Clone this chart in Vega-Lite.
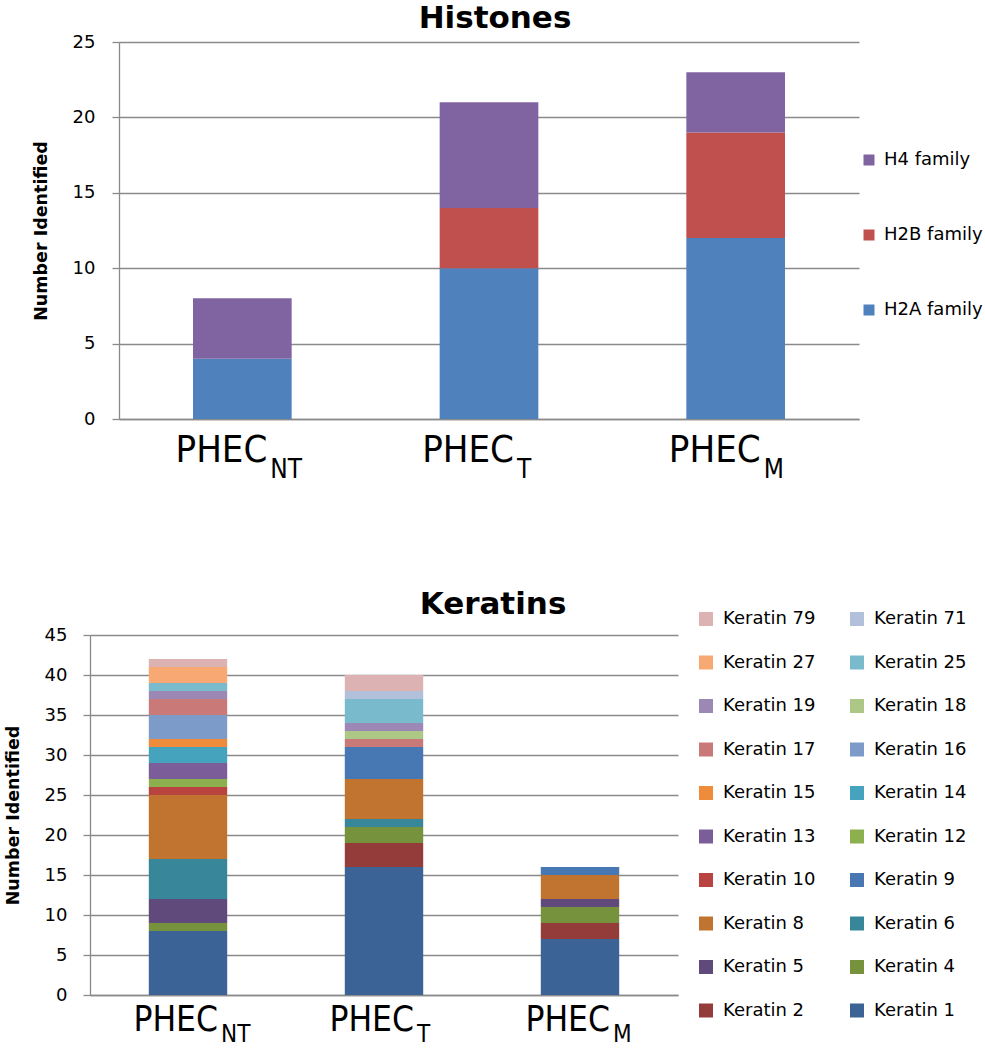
{
  "$schema": "https://vega.github.io/schema/vega-lite/v6.json",
  "padding": {"left": 4, "top": 3, "right": 0, "bottom": 0},
  "config": {
    "view": {"stroke": null},
    "font": "DejaVu Sans",
    "axis": {"labelColor": "#000000", "titleColor": "#000000", "domainColor": "#8a8a8a", "tickColor": "#8a8a8a", "gridColor": "#8a8a8a", "gridWidth": 1.3, "domainWidth": 1.3, "tickWidth": 1.3},
    "legend": {"labelColor": "#000000"},
    "title": {"color": "#000000"}
  },
  "datasets": {
    "histones": [
      {"sample": "PHEC_NT", "family": "H2A family", "n": 4},
      {"sample": "PHEC_NT", "family": "H4 family", "n": 4},
      {"sample": "PHEC_T", "family": "H2A family", "n": 10},
      {"sample": "PHEC_T", "family": "H2B family", "n": 4},
      {"sample": "PHEC_T", "family": "H4 family", "n": 7},
      {"sample": "PHEC_M", "family": "H2A family", "n": 12},
      {"sample": "PHEC_M", "family": "H2B family", "n": 7},
      {"sample": "PHEC_M", "family": "H4 family", "n": 4}
    ],
    "keratins": [
      {"sample": "PHEC_NT", "keratin": "Keratin 1", "num": 1, "n": 8},
      {"sample": "PHEC_NT", "keratin": "Keratin 4", "num": 4, "n": 1},
      {"sample": "PHEC_NT", "keratin": "Keratin 5", "num": 5, "n": 3},
      {"sample": "PHEC_NT", "keratin": "Keratin 6", "num": 6, "n": 5},
      {"sample": "PHEC_NT", "keratin": "Keratin 8", "num": 8, "n": 8},
      {"sample": "PHEC_NT", "keratin": "Keratin 10", "num": 10, "n": 1},
      {"sample": "PHEC_NT", "keratin": "Keratin 12", "num": 12, "n": 1},
      {"sample": "PHEC_NT", "keratin": "Keratin 13", "num": 13, "n": 2},
      {"sample": "PHEC_NT", "keratin": "Keratin 14", "num": 14, "n": 2},
      {"sample": "PHEC_NT", "keratin": "Keratin 15", "num": 15, "n": 1},
      {"sample": "PHEC_NT", "keratin": "Keratin 16", "num": 16, "n": 3},
      {"sample": "PHEC_NT", "keratin": "Keratin 17", "num": 17, "n": 2},
      {"sample": "PHEC_NT", "keratin": "Keratin 19", "num": 19, "n": 1},
      {"sample": "PHEC_NT", "keratin": "Keratin 25", "num": 25, "n": 1},
      {"sample": "PHEC_NT", "keratin": "Keratin 27", "num": 27, "n": 2},
      {"sample": "PHEC_NT", "keratin": "Keratin 79", "num": 79, "n": 1},
      {"sample": "PHEC_T", "keratin": "Keratin 1", "num": 1, "n": 16},
      {"sample": "PHEC_T", "keratin": "Keratin 2", "num": 2, "n": 3},
      {"sample": "PHEC_T", "keratin": "Keratin 4", "num": 4, "n": 2},
      {"sample": "PHEC_T", "keratin": "Keratin 6", "num": 6, "n": 1},
      {"sample": "PHEC_T", "keratin": "Keratin 8", "num": 8, "n": 5},
      {"sample": "PHEC_T", "keratin": "Keratin 9", "num": 9, "n": 4},
      {"sample": "PHEC_T", "keratin": "Keratin 17", "num": 17, "n": 1},
      {"sample": "PHEC_T", "keratin": "Keratin 18", "num": 18, "n": 1},
      {"sample": "PHEC_T", "keratin": "Keratin 19", "num": 19, "n": 1},
      {"sample": "PHEC_T", "keratin": "Keratin 25", "num": 25, "n": 3},
      {"sample": "PHEC_T", "keratin": "Keratin 71", "num": 71, "n": 1},
      {"sample": "PHEC_T", "keratin": "Keratin 79", "num": 79, "n": 2},
      {"sample": "PHEC_M", "keratin": "Keratin 1", "num": 1, "n": 7},
      {"sample": "PHEC_M", "keratin": "Keratin 2", "num": 2, "n": 2},
      {"sample": "PHEC_M", "keratin": "Keratin 4", "num": 4, "n": 2},
      {"sample": "PHEC_M", "keratin": "Keratin 5", "num": 5, "n": 1},
      {"sample": "PHEC_M", "keratin": "Keratin 8", "num": 8, "n": 3},
      {"sample": "PHEC_M", "keratin": "Keratin 9", "num": 9, "n": 1}
    ],
    "labels": [
      {"sample": "PHEC_NT", "sub": "NT"},
      {"sample": "PHEC_T", "sub": "T"},
      {"sample": "PHEC_M", "sub": "M"}
    ]
  },
  "concat": [
    {
      "hconcat": [
        {"width": 1, "height": 1, "data": {"values": []}, "mark": {"type": "point", "opacity": 0}, "encoding": {}},
        {
          "width": 740,
          "height": 377,
          "title": {"text": "Histones", "font": "DejaVu Sans", "fontSize": 31, "fontWeight": "bold", "anchor": "middle", "frame": "group", "dx": 6, "offset": -2},
          "encoding": {
            "x": {"field": "sample", "type": "nominal",
              "scale": {"domain": ["PHEC_NT", "PHEC_T", "PHEC_M"], "paddingInner": 0.6, "paddingOuter": 0.3},
              "axis": {"title": null, "labelExpr": "'PHEC'", "labelFont": "DejaVu Sans Condensed, Roboto", "labelFontSize": 38, "labelAlign": "right", "labelBaseline": "top", "labelOffset": 25, "labelPadding": 12, "ticks": false, "labelAngle": 0, "grid": false}
            }
          },
          "layer": [
            {
              "data": {"name": "histones"},
              "mark": {"type": "bar"},
              "encoding": {
                "y": {"field": "n", "type": "quantitative", "stack": "zero",
                  "scale": {"domain": [0, 25], "nice": false},
                  "axis": {"title": "Number Identified", "titleFont": "DejaVu Sans", "titleFontSize": 17.5, "titleFontWeight": "bold", "titlePadding": 22, "values": [0, 5, 10, 15, 20, 25], "labelOverlap": false, "labelFont": "DejaVu Sans", "labelFontSize": 18, "labelPadding": 17, "tickSize": 7, "grid": true}
                },
                "color": {"field": "family", "type": "nominal",
                  "scale": {"domain": ["H4 family", "H2B family", "H2A family"], "range": ["#8064A2", "#C0504D", "#4F81BD"]},
                  "legend": {"orient": "none", "legendX": 741, "legendY": 109, "title": null, "symbolType": "square", "symbolSize": 121, "symbolStrokeWidth": 0, "labelFont": "DejaVu Sans", "labelFontSize": 18, "rowPadding": 57, "labelOffset": 6}
                },
                "order": {"field": "family", "sort": "ascending"}
              }
            },
            {
              "data": {"name": "labels"},
              "mark": {"type": "text", "align": "left", "baseline": "alphabetic", "dx": 28, "dy": 59, "font": "DejaVu Sans Condensed, Roboto", "fontSize": 26, "color": "#000000"},
              "encoding": {
                "y": {"datum": 0, "type": "quantitative",
                  "axis": {"title": "Number Identified", "titleFont": "DejaVu Sans", "titleFontSize": 17.5, "titleFontWeight": "bold", "titlePadding": 22, "values": [0, 5, 10, 15, 20, 25], "labelOverlap": false, "labelFont": "DejaVu Sans", "labelFontSize": 18, "labelPadding": 17, "tickSize": 7, "grid": true}
                },
                "text": {"field": "sub"}
              }
            }
          ]
        }
      ],
      "spacing": 26,
      "resolve": {"scale": {"color": "independent"}, "legend": {"color": "independent"}}
    },
    {
      "hconcat": [
        {"width": 1, "height": 1, "data": {"values": []}, "mark": {"type": "point", "opacity": 0}, "encoding": {}},
        {
          "width": 588,
          "height": 360,
          "title": {"text": "Keratins", "font": "DejaVu Sans", "fontSize": 31, "fontWeight": "bold", "anchor": "middle", "frame": "group", "dx": 109, "offset": -11},
          "encoding": {
            "x": {"field": "sample", "type": "nominal",
              "scale": {"domain": ["PHEC_NT", "PHEC_T", "PHEC_M"], "paddingInner": 0.6, "paddingOuter": 0.3},
              "axis": {"title": null, "labelExpr": "'PHEC'", "labelFont": "DejaVu Sans Condensed, Roboto", "labelFontSize": 35, "labelAlign": "right", "labelBaseline": "top", "labelOffset": 30, "labelPadding": 7, "ticks": false, "labelAngle": 0, "grid": false}
            }
          },
          "layer": [
            {
              "data": {"name": "keratins"},
              "mark": {"type": "bar"},
              "encoding": {
                "y": {"field": "n", "type": "quantitative", "stack": "zero",
                  "scale": {"domain": [0, 45], "nice": false},
                  "axis": {"title": "Number Identified", "titleFont": "DejaVu Sans", "titleFontSize": 17.5, "titleFontWeight": "bold", "titlePadding": 22, "values": [0, 5, 10, 15, 20, 25, 30, 35, 40, 45], "labelOverlap": false, "labelFont": "DejaVu Sans", "labelFontSize": 18, "labelPadding": 16, "tickSize": 7, "grid": true}
                },
                "color": {"field": "keratin", "type": "nominal",
                  "scale": {
                    "domain": ["Keratin 79", "Keratin 71", "Keratin 27", "Keratin 25", "Keratin 19", "Keratin 18", "Keratin 17", "Keratin 16", "Keratin 15", "Keratin 14", "Keratin 13", "Keratin 12", "Keratin 10", "Keratin 9", "Keratin 8", "Keratin 6", "Keratin 5", "Keratin 4", "Keratin 2", "Keratin 1"],
                    "range": ["#DDB2B2", "#B3C0DC", "#F7A873", "#79BACD", "#9B88B5", "#ADC787", "#C87978", "#7D9BC9", "#EE8C3B", "#45A3BD", "#7A5D99", "#8DB04F", "#B9433F", "#4878B4", "#C0742F", "#37869A", "#604A7B", "#76923C", "#943C3A", "#3B6395"]
                  },
                  "legend": {"orient": "none", "direction": "horizontal", "legendX": 607, "legendY": -25, "title": null, "columns": 2, "columnPadding": 32, "symbolType": "square", "symbolSize": 196, "symbolStrokeWidth": 0, "labelFont": "DejaVu Sans", "labelFontSize": 18, "rowPadding": 25.5, "labelOffset": 8}
                },
                "order": {"field": "num", "type": "quantitative", "sort": "ascending"}
              }
            },
            {
              "data": {"name": "labels"},
              "mark": {"type": "text", "align": "left", "baseline": "alphabetic", "dx": 33, "dy": 47, "font": "DejaVu Sans Condensed, Roboto", "fontSize": 24, "color": "#000000"},
              "encoding": {
                "y": {"datum": 0, "type": "quantitative",
                  "axis": {"title": "Number Identified", "titleFont": "DejaVu Sans", "titleFontSize": 17.5, "titleFontWeight": "bold", "titlePadding": 22, "values": [0, 5, 10, 15, 20, 25, 30, 35, 40, 45], "labelOverlap": false, "labelFont": "DejaVu Sans", "labelFontSize": 18, "labelPadding": 16, "tickSize": 7, "grid": true}
                },
                "text": {"field": "sub"}
              }
            }
          ]
        }
      ],
      "spacing": -2,
      "resolve": {"scale": {"color": "independent"}, "legend": {"color": "independent"}}
    }
  ],
  "columns": 1,
  "align": "none",
  "spacing": 106,
  "resolve": {"scale": {"color": "independent"}, "legend": {"color": "independent"}}
}
